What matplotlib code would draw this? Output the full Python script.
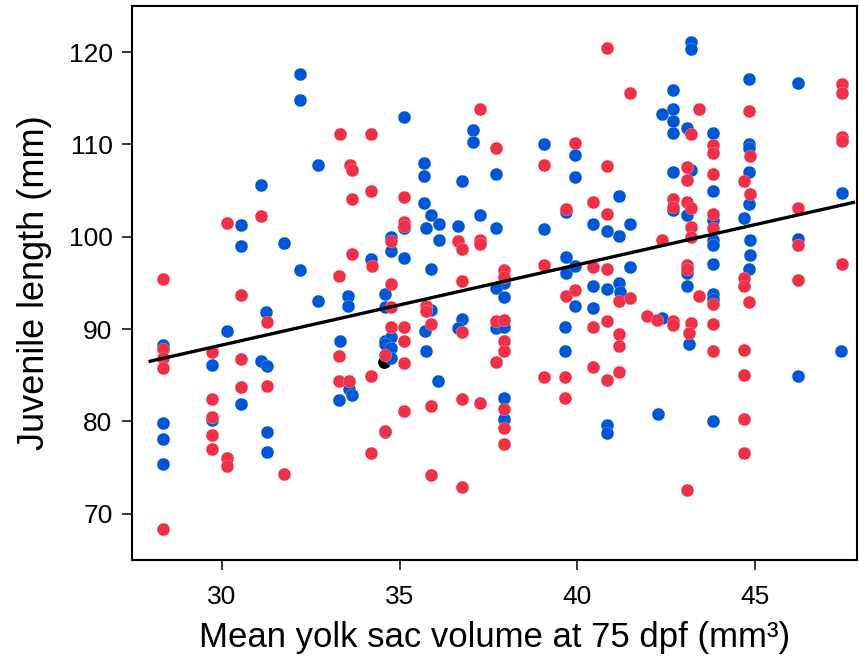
import numpy as np
import matplotlib
matplotlib.use("Agg")
import matplotlib.pyplot as plt

plt.rcParams["font.family"] = ["Liberation Sans", "DejaVu Sans"]

# ----- data -----
blue_x = [32.21, 32.21, 32.69, 31.10, 30.54, 30.54, 31.74, 34.20, 32.21, 32.69,
          33.54, 31.25, 33.54, 30.14, 28.34, 29.72, 31.10, 31.27, 33.33, 33.57,
          33.66, 33.28, 30.54, 28.34, 28.34, 28.34, 29.72, 31.27, 31.27, 34.58,
          34.58, 34.58, 35.12, 37.07, 37.07, 39.06, 39.93, 39.93, 35.68, 35.68,
          36.76, 37.70, 35.68, 35.89, 36.10, 35.75, 35.12, 36.10, 36.64, 37.25,
          37.70, 34.77, 34.77, 35.12, 35.89, 37.93, 37.70, 37.93, 39.67, 39.67,
          39.93, 39.67, 40.44, 40.83, 41.17, 41.17, 39.06, 40.44, 40.83, 41.17,
          34.58, 35.89, 34.77, 34.58, 34.77, 34.77, 35.70, 35.75, 36.76, 36.64,
          37.70, 37.93, 36.08, 37.93, 37.93, 39.93, 40.44, 39.65, 39.65, 40.83,
          40.83, 43.21, 43.21, 44.82, 46.21, 42.68, 42.68, 42.37, 42.68, 42.68,
          43.08, 43.83, 44.82, 44.82, 42.68, 43.21, 44.82, 43.83, 47.44, 42.68,
          43.08, 44.82, 43.83, 44.69, 43.83, 43.83, 44.87, 44.87, 46.21, 41.48,
          41.48, 43.83, 43.08, 43.08, 44.82, 41.20, 43.83, 43.83, 42.37, 43.14,
          47.41, 46.21, 42.27, 43.83]
blue_y = [117.58, 114.77, 107.80, 105.59, 101.26, 98.98, 99.38, 97.65, 96.42, 93.10,
          93.64, 91.87, 92.56, 89.85, 88.33, 86.16, 86.52, 86.06, 88.77, 83.53,
          82.91, 82.34, 81.91, 79.80, 78.11, 75.41, 80.17, 78.90, 76.66, 93.86,
          88.77, 78.90, 112.96, 111.52, 110.25, 110.07, 108.88, 106.46, 107.97, 106.57,
          106.07, 106.78, 103.64, 102.38, 101.41, 100.98, 100.90, 99.60, 101.15, 102.38,
          100.98, 99.96, 98.44, 97.68, 96.49, 94.97, 94.47, 93.45, 97.79, 96.06,
          96.82, 102.70, 101.41, 100.68, 104.40, 100.14, 100.87, 94.72, 94.36, 94.97,
          92.37, 92.09, 89.12, 88.40, 87.98, 86.89, 89.85, 87.60, 91.11, 90.10,
          90.10, 90.28, 84.43, 82.51, 80.28, 92.48, 92.26, 90.28, 87.60, 79.66,
          78.80, 121.08, 120.36, 117.04, 116.68, 115.85, 113.87, 113.25, 112.52, 111.27,
          111.77, 111.27, 110.07, 109.60, 107.07, 107.26, 107.00, 104.91, 104.72, 102.90,
          102.38, 103.50, 101.77, 102.05, 99.60, 99.06, 99.60, 98.08, 99.78, 101.41,
          96.71, 97.07, 96.10, 94.62, 96.49, 94.00, 93.82, 93.28, 91.18, 88.40,
          87.68, 84.97, 80.82, 80.10]

red_x = [33.33, 34.20, 33.61, 33.66, 34.20, 33.66, 31.10, 30.14, 33.66, 34.23,
         33.28, 28.34, 30.54, 31.27, 28.34, 28.34, 28.34, 29.72, 30.54, 33.28,
         33.28, 33.57, 34.20, 30.54, 31.27, 29.72, 29.72, 29.72, 29.72, 30.14,
         30.14, 31.74, 34.20, 28.34, 40.83, 37.25, 37.70, 39.93, 39.06, 40.83,
         35.12, 35.12, 35.12, 36.64, 36.76, 37.25, 37.25, 34.77, 36.76, 34.77,
         37.93, 37.93, 39.06, 39.67, 40.44, 40.83, 40.44, 40.83, 39.67, 39.93,
         34.77, 35.75, 35.75, 34.77, 35.12, 35.12, 35.12, 34.58, 35.89, 36.76,
         37.70, 37.93, 37.93, 37.93, 37.70, 35.12, 35.89, 36.76, 37.25, 37.93,
         37.93, 37.93, 34.58, 35.89, 36.76, 40.44, 40.83, 39.06, 39.65, 39.65,
         40.44, 40.83, 41.17, 41.17, 41.17, 41.47, 47.44, 47.44, 43.43, 44.82,
         43.21, 43.83, 43.83, 47.44, 47.44, 44.87, 43.08, 43.08, 43.83, 44.69,
         44.87, 42.68, 42.68, 43.08, 43.21, 46.21, 43.83, 43.83, 43.21, 43.21,
         46.21, 42.37, 43.08, 43.08, 44.69, 44.69, 47.44, 46.21, 41.17, 41.48,
         43.43, 43.83, 44.82, 41.95, 42.25, 42.68, 42.68, 43.21, 43.14, 43.83,
         43.83, 44.69, 44.69, 44.69, 44.69, 43.08]
red_y = [111.08, 111.08, 107.80, 107.26, 104.98, 104.07, 102.27, 101.47, 98.19, 96.89,
         95.80, 95.41, 93.67, 90.75, 87.86, 86.89, 85.76, 87.57, 86.78, 87.06,
         84.36, 84.36, 84.97, 83.78, 83.89, 82.40, 80.45, 78.58, 76.99, 76.06,
         75.19, 74.32, 76.55, 68.32, 120.43, 113.87, 109.60, 110.18, 107.80, 107.62,
         104.29, 101.55, 101.12, 99.52, 98.70, 99.67, 99.17, 99.50, 95.16, 94.87,
         96.42, 95.62, 96.97, 103.03, 103.75, 102.49, 96.78, 96.53, 93.64, 94.26,
         92.37, 92.56, 91.94, 90.28, 90.28, 88.69, 86.31, 87.25, 90.57, 89.67,
         90.86, 91.00, 88.69, 87.68, 86.49, 81.10, 81.69, 82.48, 82.01, 81.36,
         79.30, 77.57, 79.01, 74.21, 72.87, 90.20, 90.86, 84.86, 84.86, 82.59,
         85.87, 84.54, 89.50, 88.22, 85.33, 115.60, 116.50, 115.60, 113.87, 113.58,
         111.08, 109.89, 109.06, 110.79, 110.40, 108.70, 107.54, 106.17, 106.82, 105.99,
         104.66, 104.12, 103.21, 103.82, 103.14, 103.10, 102.49, 100.93, 101.11, 100.03,
         99.06, 99.60, 96.97, 96.50, 95.56, 94.62, 97.07, 95.37, 93.02, 93.40,
         93.64, 92.67, 92.91, 91.47, 91.00, 90.86, 90.40, 90.64, 89.56, 90.57,
         87.60, 87.79, 85.08, 80.28, 76.60, 72.59]

black_x = [34.57]
black_y = [86.41]

# fitted line
fit_slope = 0.869
fit_intercept = 62.21
fit_range = [27.98, 47.77]

x_ticks = [30, 35, 40, 45]
y_ticks = [70, 80, 90, 100, 110, 120]

BLUE = "#0057D6"
RED = "#EE3048"

fig = plt.figure(figsize=(8.59, 6.61), dpi=100)
ax = fig.add_axes([0.1537, 0.1528, 0.8440, 0.8382])

ax.scatter(blue_x, blue_y, s=86, color=BLUE, edgecolors="white", linewidths=0.15, zorder=2)
ax.scatter(red_x, red_y, s=86, color=RED, edgecolors="white", linewidths=0.15, zorder=2)
ax.scatter(black_x, black_y, s=86, color="black", linewidths=0, zorder=1)

xf = np.array(fit_range)
ax.plot(xf, fit_slope * xf + fit_intercept, color="black", lw=2.4, zorder=3)

ax.set_xlim(27.47, 47.87)
ax.set_ylim(65, 125)
ax.set_xticks(x_ticks)
ax.set_yticks(y_ticks)

for s in ax.spines.values():
    s.set_linewidth(1.5)
    s.set_color("black")
ax.tick_params(direction="out", length=7, width=1.1, labelsize=19)
ax.tick_params(axis="x", pad=11)
ax.tick_params(axis="y", pad=7)

ax.set_xlabel("Mean yolk sac volume at 75 dpf (mm³)", fontsize=25, labelpad=9)
ax.set_ylabel("Juvenile length (mm)", fontsize=26, labelpad=12)

fig.savefig("out.png", dpi=100)
